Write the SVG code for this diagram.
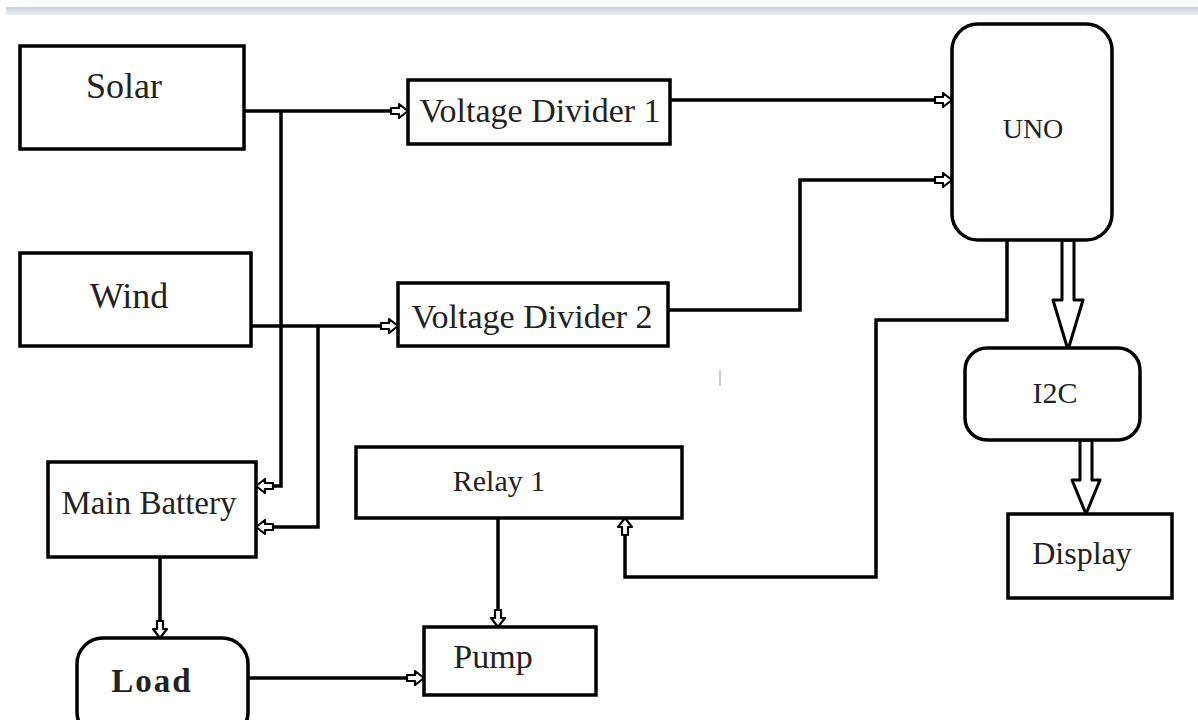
<svg xmlns="http://www.w3.org/2000/svg" width="1198" height="720" viewBox="0 0 1198 720">
<defs>
<linearGradient id="bar" x1="0" y1="0" x2="0" y2="1">
<stop offset="0" stop-color="#c9d0e2"/>
<stop offset="1" stop-color="#eef0f6"/>
</linearGradient>
<marker id="ha" markerUnits="userSpaceOnUse" markerWidth="24" markerHeight="20" viewBox="-20 -10 24 20" refX="0" refY="0" orient="auto" overflow="visible">
<polygon points="-17,-3 -9,-3 -9,-7 0,0 -9,7 -9,3 -17,3" fill="#fff" stroke="#000" stroke-width="2.2" stroke-linejoin="round"/>
</marker>
<style>
.box{fill:#fff;stroke:#000;stroke-width:3.5}
.ln{fill:none;stroke:#000;stroke-width:3.5}
.arr{marker-end:url(#ha)}
.big{fill:#fff;stroke:#000;stroke-width:3;stroke-linejoin:round}
.t{font-family:"Liberation Serif","Times New Roman",serif;fill:#222;text-anchor:middle}
</style>
</defs>
<rect width="1198" height="720" fill="#fff"/>
<rect x="6" y="7" width="1192" height="8" fill="url(#bar)"/>
<line x1="720" y1="370" x2="720" y2="386" stroke="#bbb" stroke-width="1.5"/>

<g id="connectors">
<path class="ln arr" d="M244,111 H408"/>
<path class="ln arr" d="M281,111 V486 H256"/>
<path class="ln arr" d="M251,326 H398"/>
<path class="ln arr" d="M318,326 V527 H256"/>
<path class="ln arr" d="M670,100 H952"/>
<path class="ln arr" d="M668,310 H800 V180 H952"/>
<path class="ln arr" d="M1007,240 V320 H876 V577 H625 V518"/>
<path class="ln arr" d="M498,518 V627"/>
<path class="ln arr" d="M160,557 V638"/>
<path class="ln arr" d="M248,678 H424"/>
<polygon class="big" points="1062,240 1062,300 1053,300 1068,350 1083,300 1074,300 1074,240"/>
<polygon class="big" points="1080,440 1080,480 1072,480 1086,514 1100,480 1092,480 1092,440"/>
</g>

<g id="solar">
<rect class="box" x="20" y="46" width="224" height="103"/>
<text class="t" x="124" y="98" font-size="36">Solar</text>
</g>
<g id="wind">
<rect class="box" x="20" y="253" width="231" height="93"/>
<text class="t" x="129" y="308" font-size="36">Wind</text>
</g>
<g id="vd1">
<rect class="box" x="408" y="80" width="262" height="64"/>
<text class="t" x="540" y="122" font-size="34">Voltage Divider 1</text>
</g>
<g id="vd2">
<rect class="box" x="398" y="283" width="270" height="63"/>
<text class="t" x="532" y="328" font-size="34">Voltage Divider 2</text>
</g>
<g id="uno">
<rect class="box" x="952" y="24" width="160" height="216" rx="26"/>
<text class="t" x="1033" y="138" font-size="28">UNO</text>
</g>
<g id="i2c">
<rect class="box" x="965" y="348" width="175" height="92" rx="22"/>
<text class="t" x="1055" y="403" font-size="30">I2C</text>
</g>
<g id="display">
<rect class="box" x="1008" y="514" width="164" height="84"/>
<text class="t" x="1082" y="564" font-size="32">Display</text>
</g>
<g id="relay1">
<rect class="box" x="356" y="447" width="326" height="71"/>
<text class="t" x="499" y="491" font-size="30">Relay 1</text>
</g>
<g id="pump">
<rect class="box" x="424" y="627" width="172" height="68"/>
<text class="t" x="493" y="668" font-size="34">Pump</text>
</g>
<g id="battery">
<rect class="box" x="48" y="462" width="208" height="95"/>
<text class="t" x="149" y="514" font-size="33">Main Battery</text>
</g>
<g id="load">
<rect class="box" x="77" y="638" width="171" height="100" rx="26"/>
<text class="t" x="152" y="692" font-size="33" font-weight="bold" letter-spacing="2">Load</text>
</g>
</svg>
